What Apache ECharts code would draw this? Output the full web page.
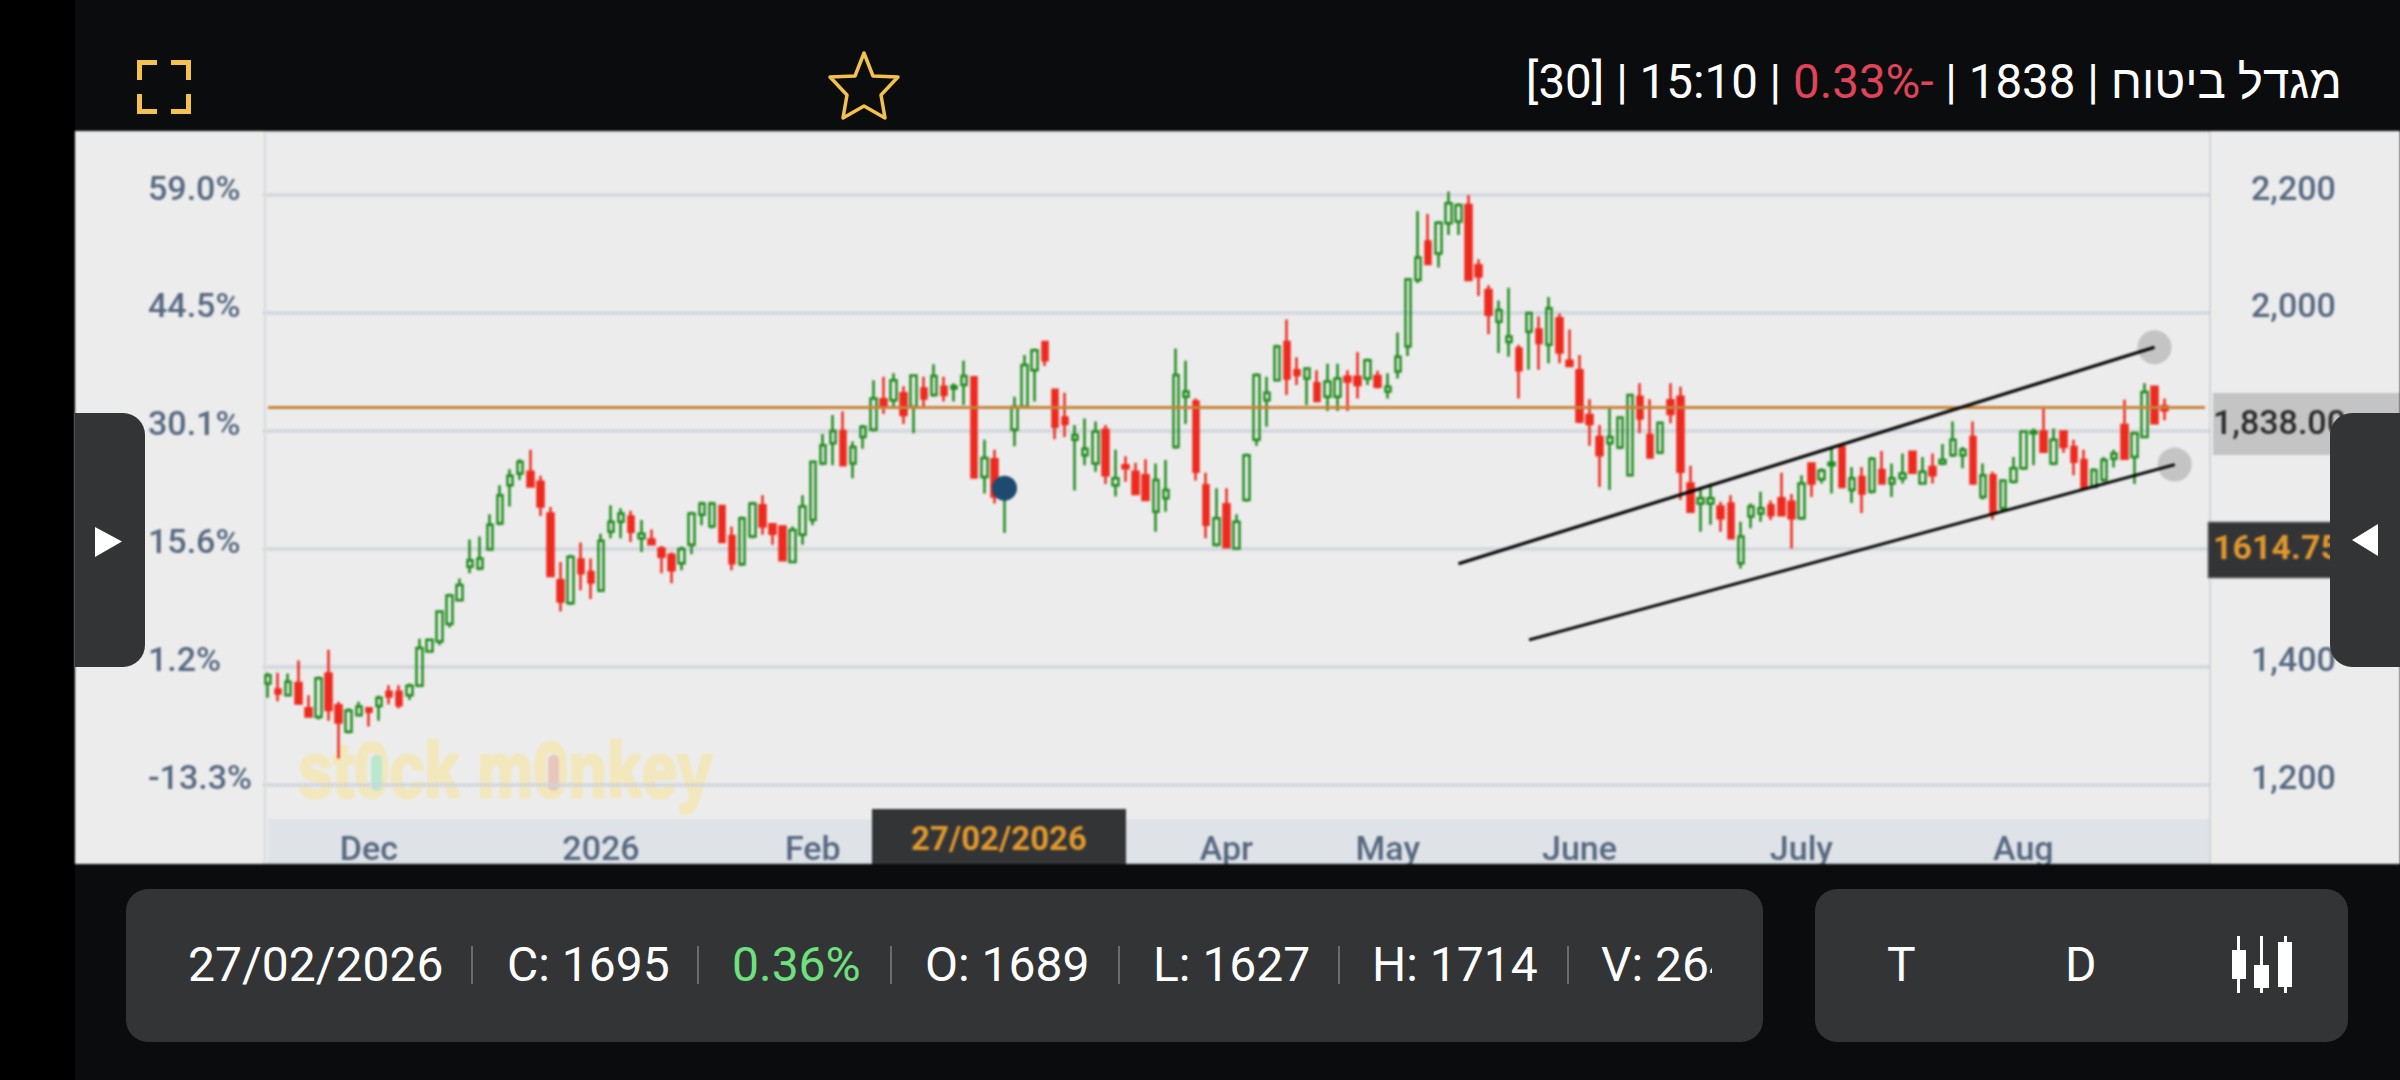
<!DOCTYPE html>
<html><head><meta charset="utf-8">
<script src="https://cdn.jsdelivr.net/npm/echarts@6/dist/echarts.min.js"></script>
<style>
html,body{margin:0;padding:0;background:#000;width:2400px;height:1080px;overflow:hidden;font-family:Roboto,"Open Sans",sans-serif}
.abs{position:absolute}
#bg{left:75px;top:0;width:2325px;height:1080px;background:#0b0c0e}
#chart{left:75px;top:131px;width:2325px;height:733px;background:#ececec;filter:blur(0.8px);overflow:hidden}
.tab{background:#333436;top:413px;height:254px}
.card{background:#333436;top:889px;height:153px;border-radius:22px}
.t{color:#fff;font-size:48px;line-height:56px;top:937px;white-space:nowrap}
.sep{background:#6b6c6e;width:2px;top:946px;height:38px}
#title{right:58px;top:52px;font-size:47.500px;line-height:60px;color:#fff;white-space:nowrap;direction:ltr;font-family:Roboto,"Liberation Sans",sans-serif}
</style></head><body>
<div id="bg" class="abs"></div>
<div id="chart" class="abs"></div>
<div class="abs tab" style="left:75px;width:70px;border-radius:0 22px 22px 0"></div>
<div class="abs tab" style="left:2330px;width:70px;border-radius:22px 0 0 22px"></div>
<div id="title" class="abs">[30] | 15:10 | <span style="color:#e0445a">0.33%-</span> | 1838 | <bdi>מגדל ביטוח</bdi></div>
<div class="abs card" style="left:126px;width:1637px"></div>
<div class="abs card" style="left:1815px;width:533px"></div>
<div class="abs t" style="left:188px">27/02/2026</div>
<div class="abs sep" style="left:471px"></div>
<div class="abs t" style="left:507px">C: 1695</div>
<div class="abs sep" style="left:697px"></div>
<div class="abs t" style="left:732px;color:#6ee07e">0.36%</div>
<div class="abs sep" style="left:890px"></div>
<div class="abs t" style="left:925px">O: 1689</div>
<div class="abs sep" style="left:1118px"></div>
<div class="abs t" style="left:1153px">L: 1627</div>
<div class="abs sep" style="left:1338px"></div>
<div class="abs t" style="left:1372px">H: 1714</div>
<div class="abs sep" style="left:1567px"></div>
<div class="abs t" style="left:1601px;width:111px;overflow:hidden">V: 264</div>
<div class="abs t" style="left:1887px">T</div>
<div class="abs t" style="left:2065px">D</div>
<svg class="abs" style="left:0;top:0" width="2400" height="1080">
 <g fill="none" stroke="#f2c14e" stroke-width="5">
  <path d="M139.500 80V62.500H157M171 62.500H188.500V80M139.500 94V111.500H157M171 111.500H188.500V94"/>
  <path stroke-width="3.500" stroke-linejoin="round" d="M864 53 873 76 898 77 881 95 885 118 864 106 843 118 847 95 830 77 855 76Z"/>
 </g>
 <g fill="#fff">
  <path d="M95 527 122 541.500 95 557Z"/>
  <path d="M2378 524 2352 540 2378 556Z"/>
  <rect x="2232" y="950" width="14" height="29"/><rect x="2254" y="965" width="15" height="23"/><rect x="2278" y="942" width="14" height="45"/>
  <rect x="2237" y="936" width="3" height="57"/><rect x="2260" y="936" width="3" height="57"/><rect x="2284" y="936" width="3" height="57"/>
 </g>
</svg>
<script>
const opens=[1372,1362,1352,1373,1330,1315,1389,1335,1290,1318,
1330,1334,1358,1358,1352,1368,1426,1443,1473,1513,
1570,1567,1599,1643,1708,1728,1731,1714,1660,1547,
1508,1582,1561,1529,1629,1646,1655,1618,1616,1601,
1590,1576,1607,1658,1638,1673,1622,1574,1621,1674,
1642,1638,1578,1624,1649,1745,1779,1800,1745,1790,
1802,1854,1852,1864,1841,1872,1861,1875,1872,1878,
1891,1722,1752,1689,1802,1841,1903,1951,1870,1823,
1785,1759,1745,1802,1708,1742,1731,1725,1663,1686,
1773,1858,1850,1708,1607,1676,1601,1683,1785,1852,
1886,1951,1903,1889,1881,1858,1858,1892,1892,1889,
1893,1867,1901,1943,2056,2121,2101,2152,2155,2183,
2081,2039,1985,1951,1940,1968,1972,1946,1991,1919,
1903,1827,1790,1779,1772,1725,1858,1793,1763,1852,
1858,1711,1677,1677,1672,1677,1576,1655,1660,1674,
1686,1680,1652,1745,1718,1742,1773,1700,1722,1697,
1734,1711,1720,1765,1711,1739,1745,1759,1759,1790,
1688,1725,1669,1714,1737,1796,1799,1745,1799,1773,
1751,1705,1717,1753,1810,1756,1790,1875,1842];
const closes=[1386,1355,1375,1338,1316,1381,1327,1306,1326,1333,
1324,1348,1350,1335,1368,1432,1446,1494,1521,1539,
1581,1584,1641,1691,1724,1748,1706,1672,1554,1511,
1587,1559,1543,1614,1646,1660,1629,1626,1608,1587,
1564,1600,1660,1677,1677,1612,1576,1652,1677,1638,
1626,1581,1632,1672,1748,1776,1800,1742,1773,1807,
1855,1841,1886,1827,1894,1855,1893,1861,1876,1893,
1721,1754,1689,1695,1841,1912,1937,1920,1807,1812,
1793,1770,1799,1725,1720,1737,1693,1683,1717,1700,
1895,1867,1731,1641,1652,1603,1646,1759,1895,1865,
1943,1889,1895,1906,1851,1884,1889,1884,1878,1920,
1875,1875,1926,2057,2094,2083,2153,2186,2183,2056,
2062,1997,2005,1960,1903,2000,1949,2008,1933,1910,
1816,1812,1759,1790,1823,1861,1821,1755,1814,1829,
1731,1663,1686,1686,1652,1618,1621,1672,1669,1657,
1657,1652,1711,1711,1733,1746,1705,1720,1694,1753,
1711,1720,1728,1729,1731,1725,1751,1785,1768,1711,
1725,1660,1716,1737,1799,1799,1765,1785,1773,1748,
1703,1734,1751,1762,1753,1796,1866,1813,1835];
const highs=[1390,1390,1389,1411,1352,1384,1429,1341,1330,1341,
1330,1351,1369,1369,1372,1448,1448,1496,1524,1550,
1616,1621,1659,1708,1735,1752,1768,1724,1671,1578,
1590,1611,1584,1626,1674,1669,1665,1649,1633,1605,
1594,1604,1663,1680,1680,1674,1638,1655,1680,1691,
1643,1638,1638,1691,1750,1795,1827,1833,1782,1810,
1886,1892,1898,1876,1896,1892,1913,1892,1881,1919,
1893,1785,1768,1714,1858,1929,1940,1951,1870,1865,
1810,1821,1816,1810,1768,1757,1746,1752,1745,1751,
1940,1919,1855,1729,1703,1703,1659,1762,1898,1892,
1946,1989,1925,1908,1903,1914,1914,1903,1934,1923,
1902,1898,1967,2059,2173,2168,2156,2206,2186,2200,
2091,2047,2021,2043,1946,2002,1994,2027,1999,1972,
1929,1854,1810,1838,1825,1863,1881,1854,1816,1881,
1875,1741,1703,1711,1680,1691,1646,1677,1697,1682,
1729,1693,1725,1746,1737,1770,1774,1739,1739,1756,
1766,1745,1762,1766,1756,1762,1778,1816,1773,1816,
1745,1731,1718,1756,1800,1804,1840,1804,1800,1785,
1768,1737,1756,1768,1853,1799,1881,1876,1855];
const lows=[1348,1342,1350,1337,1315,1311,1309,1245,1287,1317,
1299,1309,1337,1330,1344,1366,1424,1437,1467,1511,
1559,1564,1597,1640,1672,1717,1704,1656,1553,1494,
1505,1530,1515,1527,1618,1618,1612,1595,1606,1559,
1542,1564,1591,1640,1635,1612,1564,1571,1618,1624,
1607,1580,1576,1607,1640,1742,1742,1742,1720,1770,
1799,1829,1842,1812,1796,1842,1858,1850,1850,1844,
1720,1694,1677,1627,1774,1841,1850,1910,1786,1790,
1699,1742,1731,1710,1689,1714,1693,1682,1629,1663,
1770,1812,1716,1618,1604,1601,1599,1680,1775,1807,
1884,1861,1878,1844,1850,1834,1834,1834,1855,1878,
1872,1855,1889,1927,2051,2081,2077,2132,2132,2055,
2029,1964,1932,1926,1855,1904,1904,1915,1915,1909,
1813,1775,1705,1700,1769,1723,1796,1754,1761,1813,
1683,1662,1629,1641,1629,1618,1567,1635,1646,1649,
1655,1601,1649,1688,1711,1694,1704,1678,1661,1694,
1710,1688,1711,1728,1710,1711,1742,1756,1737,1710,
1684,1650,1663,1711,1734,1742,1763,1742,1763,1725,
1701,1703,1714,1738,1752,1710,1789,1812,1818];

const tickIndexes=[10,33,54,95,111,130,152,174];
const tickLabels=['Dec','2026','Feb','Apr','May','June','July','Aug'];
const slotCount=193;
const categories=Array.from({length:slotCount},(_,i)=>{const k=tickIndexes.indexOf(i);return k<0?'':tickLabels[k];});

const priceTicks=[1200,1400,1600,1800,2000,2200];
const percentLabels=['-13.3%','1.2%','15.6%','30.1%','44.5%','59.0%'];
const lastPriceLine=1840;
const selectedPoint=[73,1703];
const upperTrend=[[118,1575],[187,1942]];
const lowerTrend=[[125,1446],[189,1743]];
const trendHandles=[[187,1942],[189,1743]];

const axisText='#566880';
const ohlc=opens.map((o,i)=>[o,closes[i],lows[i],highs[i]]);
const font='Roboto';
const yBase={type:'value',min:1066,max:2308.5,scale:true,splitNumber:6};
const chart=echarts.init(document.getElementById('chart'));
const trend=d=>({type:'line',data:d,symbol:'none',z:6,silent:true,lineStyle:{color:'#000',width:3}});
chart.setOption({
 animation:false,backgroundColor:'#ececec',
 grid:{left:188,right:190,top:0,bottom:0,containLabel:false,outerBoundsMode:'none'},
 xAxis:{type:'category',data:categories,boundaryGap:true,z:3,
  axisLine:{show:false},axisTick:{show:false},splitLine:{show:false},
  axisLabel:{inside:true,interval:0,margin:-4,color:axisText,fontSize:34,fontFamily:font,fontWeight:500,hideOverlap:false}},
 yAxis:[
  Object.assign({},yBase,{position:'left',axisLine:{show:false},axisTick:{show:false},
   splitLine:{show:true,lineStyle:{color:'#cdd3db',width:4,type:[3,1]}},
   axisLabel:{customValues:priceTicks,align:'left',verticalAlign:'bottom',lineHeight:8,margin:115,color:axisText,fontSize:34,fontFamily:font,fontWeight:500,
    formatter:v=>percentLabels[priceTicks.indexOf(v)]}}),
  Object.assign({},yBase,{position:'right',axisLine:{show:true,onZero:false,lineStyle:{color:'#d2d4d6',width:2}},axisTick:{show:false},splitLine:{show:false},
   axisLabel:{customValues:priceTicks,align:'left',verticalAlign:'bottom',lineHeight:8,margin:41,color:axisText,fontSize:34,fontFamily:font,fontWeight:500,
    formatter:v=>v.toLocaleString('en-US')}})
 ],
 series:[
  {type:'candlestick',data:ohlc,barWidth:6,z:3,clip:false,silent:true,
   itemStyle:{color:'transparent',color0:'#ee2a1e',borderColor:'#1f8a1c',borderColor0:'#ee2a1e',borderWidth:2.5},
   markLine:{silent:true,symbol:'none',z:4,label:{show:false},lineStyle:{color:'#c8823a',width:3,type:'solid'},
    data:[[{xAxis:0,yAxis:lastPriceLine},{xAxis:slotCount-1,yAxis:lastPriceLine}]]}},
  {type:'scatter',data:trendHandles,symbolSize:34,z:5,silent:true,itemStyle:{color:'#c4c4c4',opacity:1}},
  trend(upperTrend),trend(lowerTrend),
  {type:'scatter',data:[selectedPoint],symbolSize:25,z:7,silent:true,itemStyle:{color:'#1f4a70',opacity:1}}
 ],
 graphic:{elements:[
  {type:'rect',silent:true,z:-1,shape:{x:193,y:688,width:1941,height:45},style:{fill:'#dfe3e8'}},
  {type:'line',silent:true,z:1,shape:{x1:190,y1:3,x2:190,y2:733},style:{stroke:'#d8dadc',lineWidth:2}},
  {type:'text',silent:true,z:-1,x:223,y:606,scaleX:0.82,style:{text:'st0ck m0nkey',font:'bold 77px "Liberation Sans"',fill:'#f3e7bc',stroke:'#f3e7bc',lineWidth:3}},
  {type:'rect',silent:true,z:-1,shape:{x:296,y:624,width:11,height:36,r:5},style:{fill:'#b9e8cf'}},
  {type:'rect',silent:true,z:-1,shape:{x:473,y:624,width:11,height:36,r:5},style:{fill:'#e8c6bc'}},
  {type:'rect',silent:true,z:20,shape:{x:797,y:678,width:254,height:60},style:{fill:'#333436'}},
  {type:'text',silent:true,z:21,x:924,y:711,style:{text:'27/02/2026',font:'bold 33px Roboto',fill:'#e0982e',align:'center',verticalAlign:'middle'}},
  {type:'rect',silent:true,z:20,shape:{x:2138,y:262,width:190,height:62},style:{fill:'#c4c4c4'}},
  {type:'text',silent:true,z:21,x:2138,y:294,style:{text:'1,838.00',font:'500 34px Roboto',fill:'#2b2b2b',verticalAlign:'middle'}},
  {type:'rect',silent:true,z:20,shape:{x:2133,y:391,width:190,height:56},style:{fill:'#333436',stroke:'#888',lineWidth:1}},
  {type:'text',silent:true,z:21,x:2138,y:419,style:{text:'1614.75',font:'bold 34px Roboto',fill:'#e0982e',verticalAlign:'middle'}}
 ]}
});
</script>
</body></html>
